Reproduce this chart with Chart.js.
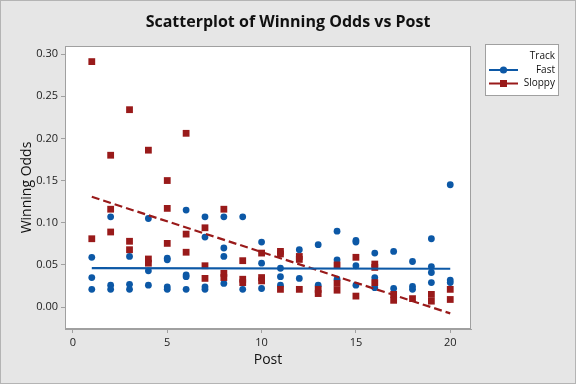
<!DOCTYPE html>
<html><head><meta charset="utf-8">
<script src="https://cdn.jsdelivr.net/npm/chart.js@4/dist/chart.umd.min.js"></script>
<style>html,body{margin:0;padding:0;background:#e6e6e6;}canvas{display:block;}</style>
</head><body>
<canvas id="c" width="576" height="384"></canvas>
<script>
// ---- data ----
const fastPost = [1,1,1, 2,2,2, 3,3,3, 4,4,4, 5,5,5,5, 6,6,6,6, 7,7,7,7, 8,8,8,8, 9,9, 10,10,10, 11,11,11, 12,12, 13,13, 14,14,14, 15,15,15,15, 16,16,16, 17,17, 18,18,18, 19,19,19,19, 20,20,20];
const fastOdds = [0.059,0.035,0.021, 0.107,0.026,0.021, 0.060,0.027,0.021, 0.105,0.043,0.026, 0.058,0.056,0.024,0.021, 0.115,0.038,0.036,0.021, 0.107,0.083,0.024,0.021, 0.107,0.070,0.060,0.028, 0.107,0.021, 0.077,0.052,0.022, 0.046,0.036,0.026, 0.068,0.034, 0.074,0.026, 0.090,0.056,0.033, 0.079,0.077,0.049,0.026, 0.064,0.035,0.023, 0.066,0.022, 0.054,0.0245,0.021, 0.081,0.048,0.041,0.029, 0.145,0.032,0.029];
const sloppyPost = [1,1, 2,2,2, 3,3,3, 4,4,4, 5,5,5, 6,6,6, 7,7,7, 8,8,8, 9,9,9, 10,10,10, 11,11,11, 12,12,12, 13,13, 14,14,14, 15,15, 16,16,16, 17,17, 18, 19,19, 20,20];
const sloppyOdds = [0.291,0.081, 0.180,0.116,0.089, 0.234,0.078,0.068, 0.186,0.057,0.052, 0.150,0.117,0.0755, 0.206,0.0865,0.065, 0.094,0.049,0.034, 0.116,0.040,0.035, 0.055,0.033,0.029, 0.064,0.035,0.031, 0.066,0.063,0.021, 0.060,0.0565,0.021, 0.021,0.016, 0.050,0.028,0.020, 0.059,0.013, 0.051,0.047,0.029, 0.015,0.008, 0.010, 0.015,0.007, 0.021,0.009];
const fitFastPost = [1, 20];
const fitFastOdds = [0.0462, 0.0454];
const fitSloppyPost = [1, 20];
const fitSloppyOdds = [0.1307, -0.0075];
const xTicks = [0, 5, 10, 15, 20];
const yTicks = [0, 0.05, 0.10, 0.15, 0.20, 0.25, 0.30];
const seriesNames = ['Fast', 'Sloppy'];
const legendTitle = 'Track';

const BLUE = '#0C58A6', RED = '#991A1A', FRAME = '#a0a0a0';
const FONT = "'Open Sans', 'Noto Sans', sans-serif";
const pts = (xs, ys) => xs.map((x, i) => ({x, y: ys[i]}));

const framePlugin = {
  id: 'frame',
  beforeDraw(chart) {
    const {ctx, chartArea: a} = chart;
    ctx.save();
    ctx.fillStyle = '#e6e6e6';
    ctx.fillRect(0, 0, chart.width, chart.height);
    ctx.fillStyle = '#ffffff';
    ctx.fillRect(a.left, a.top, a.right - a.left, a.bottom - a.top);
    ctx.restore();
  },
  afterDraw(chart) {
    const {ctx, chartArea: a} = chart;
    ctx.save();
    ctx.strokeStyle = FRAME; ctx.lineWidth = 1;
    ctx.strokeRect(Math.round(a.left) + 0.5, Math.round(a.top) + 0.5, Math.round(a.right - a.left) - 1, Math.round(a.bottom - a.top) - 1);
    ctx.strokeStyle = '#b4b4b4';
    ctx.strokeRect(0.5, 0.5, chart.width - 1, chart.height - 1);
    // legend
    const bx = 485.5, by = 44.5, bw = 73, bh = 51;
    ctx.fillStyle = '#fff'; ctx.fillRect(bx, by, bw, bh);
    ctx.strokeStyle = FRAME; ctx.strokeRect(bx, by, bw, bh);
    ctx.fillStyle = '#111'; ctx.font = '10px ' + FONT; ctx.textAlign = 'right'; ctx.textBaseline = 'middle';
    ctx.fillText(legendTitle, 555, 56.5);
    const rows = [{name: seriesNames[0], c: BLUE, s: 'circle', y: 70}, {name: seriesNames[1], c: RED, s: 'rect', y: 83.5}];
    rows.forEach(r => {
      ctx.fillStyle = '#111';
      ctx.fillText(r.name, 555, r.y);
      ctx.strokeStyle = r.c; ctx.lineWidth = 2;
      ctx.beginPath(); ctx.moveTo(489, r.y); ctx.lineTo(518, r.y); ctx.stroke();
      ctx.fillStyle = r.c;
      if (r.s === 'circle') { ctx.beginPath(); ctx.arc(503.5, r.y, 3.6, 0, Math.PI * 2); ctx.fill(); }
      else { ctx.fillRect(500, r.y - 3.5, 7, 7); }
    });
    ctx.restore();
  }
};

new Chart(document.getElementById('c'), {
  type: 'scatter',
  data: {
    datasets: [
      {label: 'Fast fit', type: 'line', data: pts(fitFastPost, fitFastOdds), borderColor: BLUE, borderWidth: 2.2, pointRadius: 0, fill: false, order: 0},
      {label: 'Sloppy fit', type: 'line', data: pts(fitSloppyPost, fitSloppyOdds), borderColor: RED, borderWidth: 2.2, borderDash: [8, 4], pointRadius: 0, fill: false, order: 0},
      {label: seriesNames[0], data: pts(fastPost, fastOdds), pointStyle: 'circle', pointRadius: 3.4, borderWidth: 0, backgroundColor: BLUE, borderColor: BLUE, order: 2},
      {label: seriesNames[1], data: pts(sloppyPost, sloppyOdds), pointStyle: 'rect', pointRadius: 4.8, borderWidth: 0, backgroundColor: RED, borderColor: RED, order: 1}
    ]
  },
  options: {
    responsive: false, animation: false, devicePixelRatio: 1,
    layout: {padding: 0},
    plugins: {
      legend: {display: false}, tooltip: {enabled: false},
      title: {display: true, text: 'Scatterplot of Winning Odds vs Post', color: '#111',
        font: {family: FONT, size: 16, weight: 'bold', lineHeight: 1.2}, padding: {top: 13, bottom: 13.8}}
    },
    scales: {
      x: {
        type: 'linear', min: -0.42, max: 21.1,
        afterFit: s => { s.height = 55; },
        afterBuildTicks: s => { s.ticks = xTicks.map(v => ({value: v})); },
        grid: {display: true, drawOnChartArea: false, drawTicks: true, tickLength: 4, tickColor: FRAME},
        border: {display: true, color: FRAME},
        ticks: {color: '#222', padding: 3, font: {family: FONT, size: 11}, maxRotation: 0},
        title: {display: true, text: 'Post', color: '#111', font: {family: FONT, size: 14, lineHeight: 1.2}, padding: {top: 0, bottom: 15.6}}
      },
      y: {
        type: 'linear', min: -0.026, max: 0.3095,
        afterFit: s => { s.width = 65; },
        afterBuildTicks: s => { s.ticks = yTicks.map(v => ({value: v})); },
        grid: {display: true, drawOnChartArea: false, drawTicks: true, tickLength: 4, tickColor: FRAME},
        border: {display: true, color: FRAME},
        ticks: {color: '#222', padding: 3, font: {family: FONT, size: 11}, callback: v => v.toFixed(2)},
        title: {display: true, text: 'Winning Odds', color: '#111', font: {family: FONT, size: 14, lineHeight: 1.2}, padding: {top: 18.6, bottom: 0}}
      },
      side: {
        type: 'linear', position: 'right', display: true,
        afterFit: s => { s.width = 105; },
        grid: {display: false}, border: {display: false}, ticks: {display: false}
      }
    }
  },
  plugins: [framePlugin]
});
</script>
</body></html>
